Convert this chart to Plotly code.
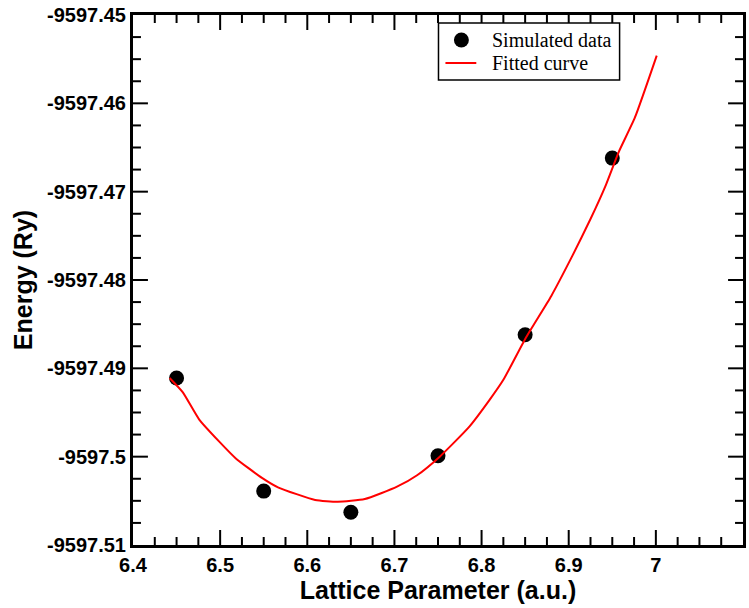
import plotly.graph_objects as go

# Simulated data
sim_x = [6.45, 6.55, 6.65, 6.75, 6.85, 6.95]
sim_y = [-9597.4911, -9597.5039, -9597.5063, -9597.4999, -9597.4862, -9597.4662]

# Fitted curve
fit_x = [6.442, 6.457, 6.476, 6.499, 6.518, 6.548, 6.567, 6.609, 6.635, 6.666,
         6.703, 6.726, 6.752, 6.786, 6.809, 6.825, 6.851, 6.880, 6.904, 6.925, 6.942,
         6.957, 6.976, 7.001]
fit_y = [-9597.4911, -9597.4927, -9597.4958, -9597.4983, -9597.5002, -9597.5024,
         -9597.5035, -9597.5049, -9597.5051, -9597.5048, -9597.5034, -9597.5021,
         -9597.5000, -9597.4966, -9597.4936, -9597.4913, -9597.4865, -9597.4818,
         -9597.4773, -9597.4731, -9597.4694, -9597.4656, -9597.4616, -9597.4546]

x_tickvals = [6.4, 6.5, 6.6, 6.7, 6.8, 6.9, 7.0]
x_ticktext = ["6.4", "6.5", "6.6", "6.7", "6.8", "6.9", "7"]
y_tickvals = [-9597.45, -9597.46, -9597.47, -9597.48, -9597.49, -9597.50, -9597.51]
y_ticktext = ["-9597.45", "-9597.46", "-9597.47", "-9597.48", "-9597.49", "-9597.5", "-9597.51"]

legend_labels = ["Simulated data", "Fitted curve"]

X_MIN, X_MAX = 6.4, 7.1
Y_MIN, Y_MAX = -9597.51, -9597.45

W, H = 749, 608
ML, MR, MT, MB = 133, 3, 15, 63
PW, PH = W - ML - MR, H - MT - MB
dx_px = (X_MAX - X_MIN) / PW
dy_px = (Y_MAX - Y_MIN) / PH

fig = go.Figure()

# Inside tick marks on all four sides (major every 4th), one short segment per trace
tick_style = dict(color="black", width=2)
for i in range(1, 28):
    xv = X_MIN + 0.025 * i
    L = (15 if i % 4 == 0 else 8) * dy_px
    fig.add_trace(go.Scatter(x=[xv, xv], y=[Y_MIN, Y_MIN + L], mode="lines", line=tick_style,
                             hoverinfo="skip", showlegend=False))
    fig.add_trace(go.Scatter(x=[xv, xv], y=[Y_MAX, Y_MAX - L], mode="lines", line=tick_style,
                             hoverinfo="skip", showlegend=False))
for i in range(1, 24):
    yv = Y_MIN + 0.0025 * i
    L = (15 if i % 4 == 0 else 8) * dx_px
    fig.add_trace(go.Scatter(x=[X_MIN, X_MIN + L], y=[yv, yv], mode="lines", line=tick_style,
                             hoverinfo="skip", showlegend=False))
    fig.add_trace(go.Scatter(x=[X_MAX, X_MAX - L], y=[yv, yv], mode="lines", line=tick_style,
                             hoverinfo="skip", showlegend=False))

fig.add_trace(go.Scatter(x=sim_x, y=sim_y, mode="markers", name=legend_labels[0],
                         marker=dict(color="black", size=15, symbol="circle"),
                         showlegend=False))
fig.add_trace(go.Scatter(x=fit_x, y=fit_y, mode="lines", name=legend_labels[1],
                         line=dict(color="red", width=2, shape="spline", smoothing=0.5),
                         showlegend=False))

tfont = dict(family="Liberation Sans, Arial, sans-serif", size=20, color="black", weight="bold")

fig.update_xaxes(
    range=[X_MIN, X_MAX], tickmode="array", tickvals=x_tickvals, ticktext=x_ticktext,
    showline=True, linecolor="black", linewidth=3, mirror=True,
    ticks="", showgrid=False, zeroline=False, tickfont=tfont,
    title=dict(text="<b>Lattice Parameter (a.u.)</b>", standoff=4,
               font=dict(family="Liberation Sans, Arial, sans-serif", size=25, color="black")),
)
fig.update_yaxes(
    range=[Y_MIN, Y_MAX], tickmode="array", tickvals=y_tickvals, ticktext=y_ticktext,
    showline=True, linecolor="black", linewidth=3, mirror=True,
    ticks="", showgrid=False, zeroline=False, tickfont=tfont,
    title=dict(text="<b>Energy (Ry)</b>", standoff=8,
               font=dict(family="Liberation Sans, Arial, sans-serif", size=25, color="black")),
)

# Manual legend (paper coordinates)
lfont = dict(family="Liberation Serif, Times New Roman, serif", size=20, color="black")
fig.add_shape(type="rect", xref="paper", yref="paper", x0=0.5008, x1=0.7977, y0=0.8774, y1=0.9849,
              line=dict(color="black", width=1.5), fillcolor="white", layer="above")
fig.add_shape(type="circle", xref="paper", yref="paper", x0=0.5261, x1=0.5506, y0=0.9387, y1=0.9670,
              line=dict(color="black", width=0), fillcolor="black", layer="above")
fig.add_shape(type="line", xref="paper", yref="paper", x0=0.5122, x1=0.5628, y0=0.9094, y1=0.9094,
              line=dict(color="red", width=2), layer="above")
fig.add_annotation(xref="paper", yref="paper", x=0.5856, y=0.9528, xanchor="left", yanchor="middle",
                   text=legend_labels[0], showarrow=False, font=lfont)
fig.add_annotation(xref="paper", yref="paper", x=0.5856, y=0.9094, xanchor="left", yanchor="middle",
                   text=legend_labels[1], showarrow=False, font=lfont)

fig.update_layout(
    width=W, height=H,
    margin=dict(l=ML, r=MR, t=MT, b=MB),
    paper_bgcolor="white", plot_bgcolor="white",
    showlegend=False,
)

fig.write_html("out.html")
